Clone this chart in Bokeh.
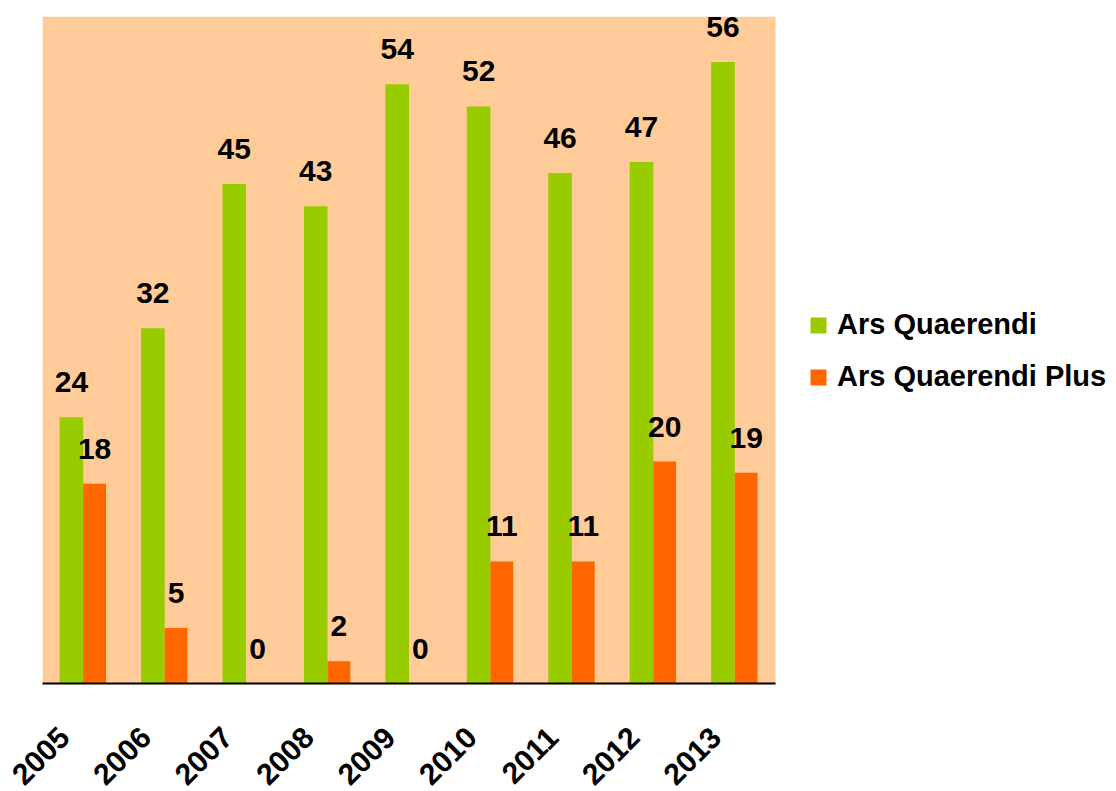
import math
from bokeh.plotting import figure
from bokeh.models import (ColumnDataSource, Range1d, Legend, LegendItem,
                          LinearAxis, FixedTicker, BoxAnnotation)
from bokeh.transform import dodge
from bokeh.core.properties import value
from bokeh.embed import file_html
from bokeh.resources import INLINE

years = ["2005", "2006", "2007", "2008", "2009", "2010", "2011", "2012", "2013"]
ars_quaerendi = [24, 32, 45, 43, 54, 52, 46, 47, 56]
ars_quaerendi_plus = [18, 5, 0, 2, 0, 11, 11, 20, 19]
series_names = ["Ars Quaerendi", "Ars Quaerendi Plus"]

GREEN = "#99CC00"
ORANGE = "#FF6600"
PEACH = "#FFCC99"
FONT = "Liberation Sans"

n = len(years)
src = ColumnDataSource(data=dict(
    idx=list(range(n)),
    year=years,
    aq=ars_quaerendi,
    aqp=ars_quaerendi_plus,
    aq_txt=[str(v) for v in ars_quaerendi],
    aqp_txt=[str(v) for v in ars_quaerendi_plus],
))

# layout: the bar area is 733 px wide; the frame continues to the right to hold the legend
AREA_W = 733
FRAME_W = 1074
unit = AREA_W / n
x_end = -0.5 + FRAME_W / unit

p = figure(frame_width=FRAME_W, frame_height=667,
           x_range=Range1d(-0.5, x_end),
           y_range=Range1d(0, 60.1), output_backend="svg", toolbar_location=None,
           min_border_left=42, min_border_right=0, min_border_top=16, min_border_bottom=108)
p.background_fill_color = "white"
p.border_fill_color = "white"
p.outline_line_color = None
p.grid.visible = False
p.yaxis.visible = False
p.xaxis.visible = False

# peach plot area behind the bars
p.add_layout(BoxAnnotation(left=-0.5, right=n - 0.5, fill_color=PEACH, fill_alpha=1.0,
                           line_color=None, level="underlay"))

g = p.vbar(x=dodge("idx", -0.145), top="aq", width=0.29, source=src,
           fill_color=GREEN, line_color=None)
o = p.vbar(x=dodge("idx", 0.14), top="aqp", width=0.28, source=src,
           fill_color=ORANGE, line_color=None)

for col, off in (("aq", -0.145), ("aqp", 0.14)):
    p.text(x=dodge("idx", off), y=col, text=col + "_txt", source=src,
           text_align="center", text_baseline="alphabetic", y_offset=-35,
           text_font=value(FONT), text_font_style="bold", text_font_size="30px",
           text_color="black")

# x axis: labels sit slightly left of each category centre, as in the original
shift = 0.23
p.extra_x_ranges = {"lab": Range1d(-0.5 + shift, x_end + shift)}
ax = LinearAxis(x_range_name="lab", ticker=FixedTicker(ticks=list(range(n))),
                major_label_overrides={i: y for i, y in enumerate(years)},
                bounds=(-0.5 + shift, n - 0.5 + shift))
ax.axis_line_color = "black"
ax.axis_line_width = 2
ax.major_tick_line_color = None
ax.minor_tick_line_color = None
ax.major_label_orientation = math.pi / 4
ax.major_label_standoff = 43
ax.major_label_text_font = FONT
ax.major_label_text_font_style = "bold"
ax.major_label_text_font_size = "30px"
ax.major_label_text_color = "black"
p.add_layout(ax, "below")

legend = Legend(items=[LegendItem(label=series_names[0], renderers=[g]),
                       LegendItem(label=series_names[1], renderers=[o])],
                location=(766, 290), glyph_width=20, glyph_height=20, label_standoff=9,
                spacing=19, padding=0, margin=0, border_line_color=None,
                background_fill_alpha=0, label_text_font=FONT, label_text_font_style="bold",
                label_text_font_size="29px", label_text_color="black")
p.add_layout(legend, "center")

open("out.html", "w").write(file_html(p, INLINE))
